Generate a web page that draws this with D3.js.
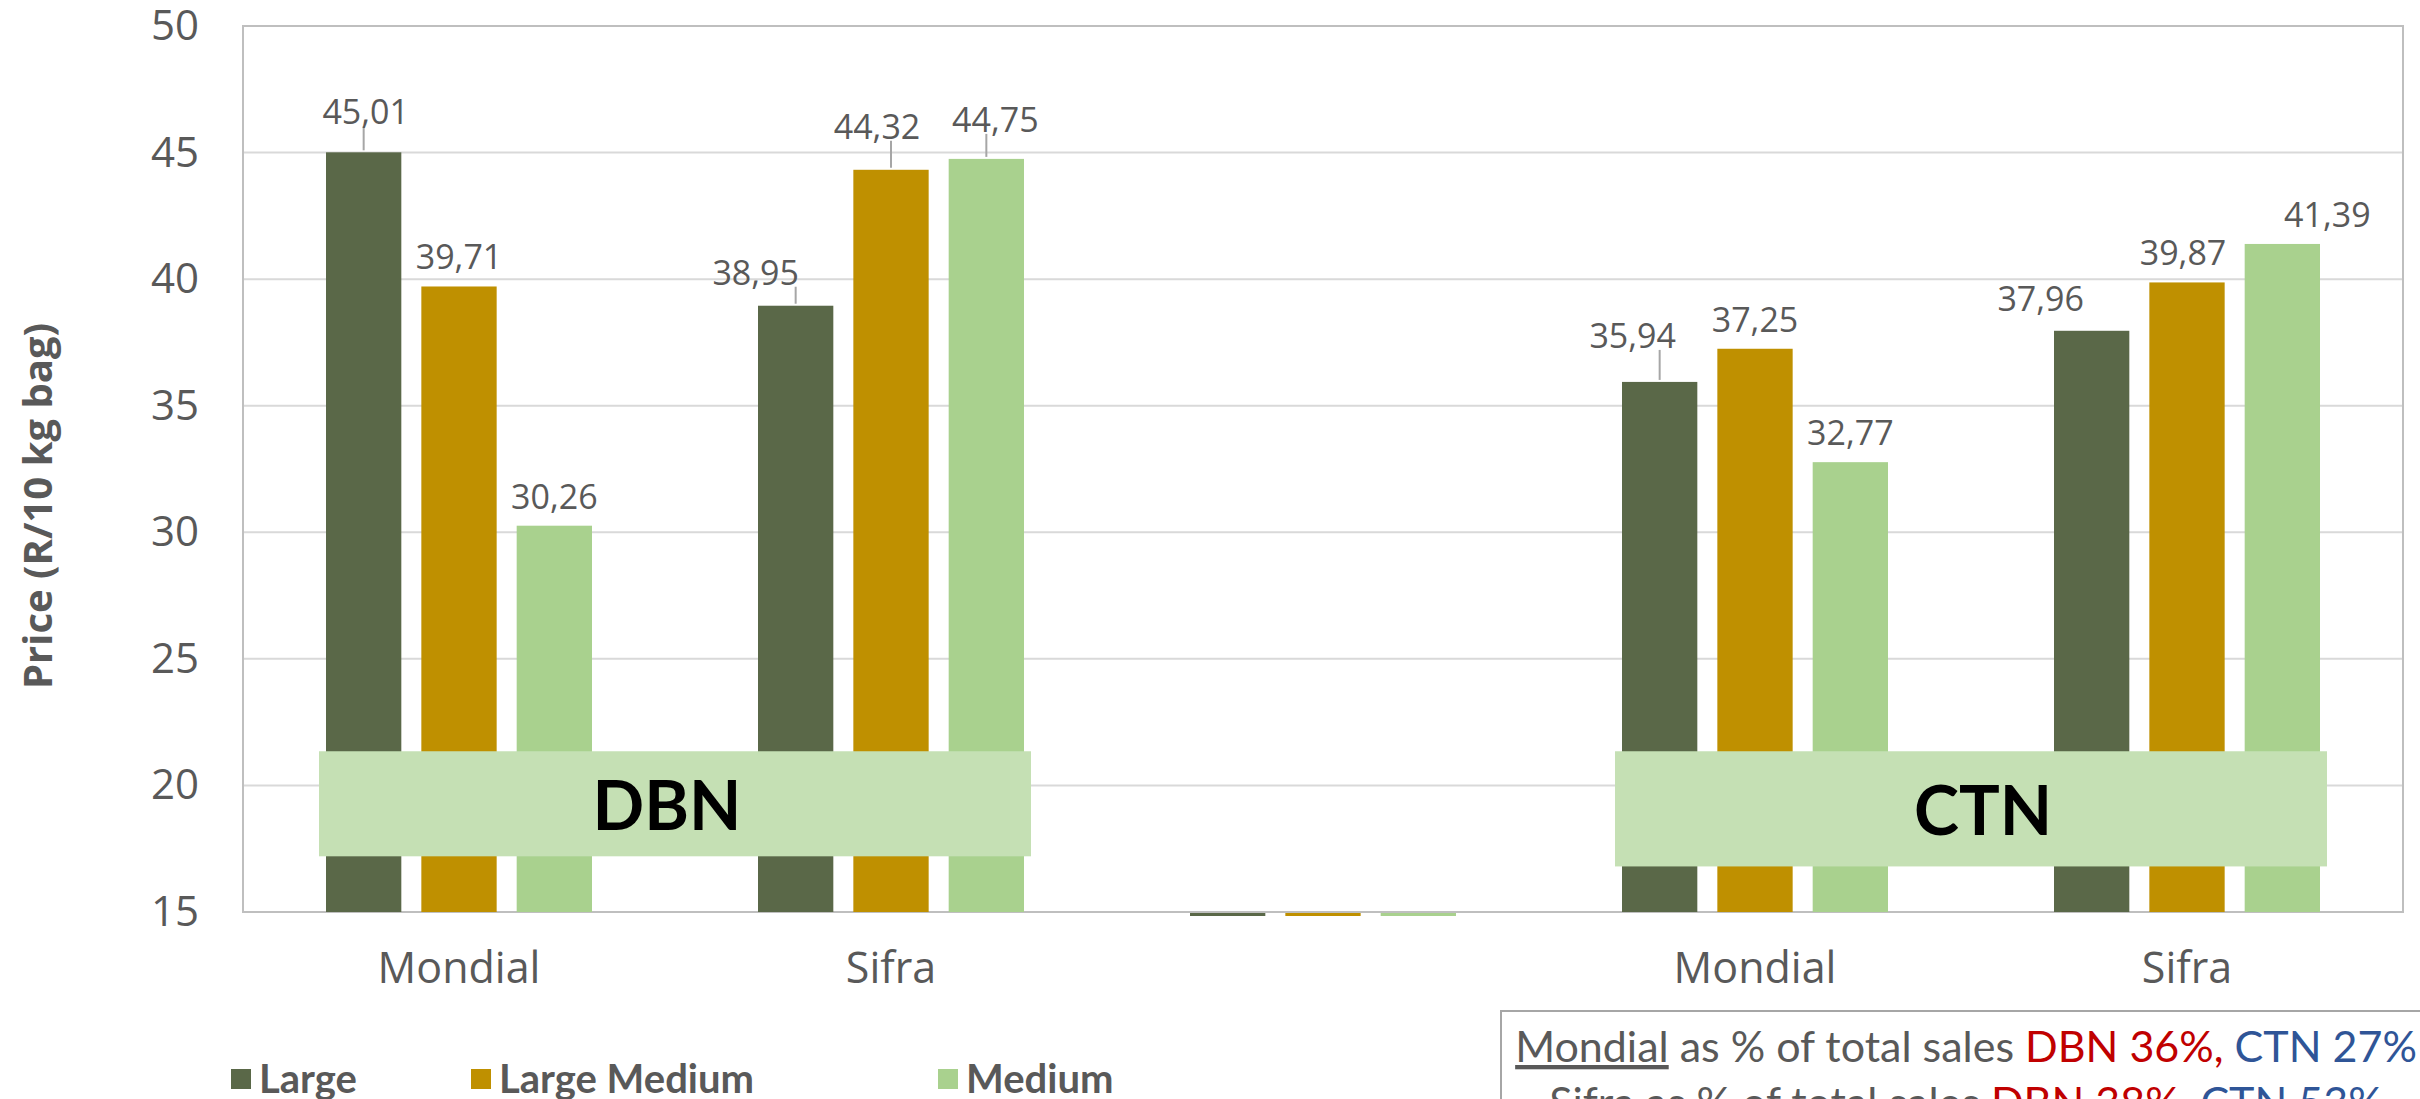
<!DOCTYPE html>
<html>
<head>
<meta charset="utf-8">
<script src="https://cdn.jsdelivr.net/npm/d3@7"></script>
<style>
  body { margin: 0; background: #fff; }
  svg { display: block; }
</style>
</head>
<body>
<div id="chartArea"></div>
<script>
const width = 2420;
const height = 1099;

// chart data
const categories = ["Mondial", "Sifra", "", "Mondial", "Sifra"];
const seriesNames = ["Large", "Large Medium", "Medium"];
const largeValues = [45.01, 38.95, 0, 35.94, 37.96];
const largeMediumValues = [39.71, 44.32, 0, 37.25, 39.87];
const mediumValues = [30.26, 44.75, 0, 32.77, 41.39];
const yTicks = [15, 20, 25, 30, 35, 40, 45, 50];
const regions = ["DBN", "CTN"];
const noteLines = [
    { market: "Mondial", dbn: "DBN 36%,", ctn: " CTN 27%" },
    { market: "Sifra", dbn: "DBN 38%,", ctn: " CTN 53%" }
];

// label nudges [dx, dy, leader] per series, per category
const labelNudges = [
    [[2, -11, true], [-40, -4, true], null, [-27, -17, true], [-51, -3, false]],
    [[0, 0, false], [-14, -14, true], null, [0, 0, false], [-4, 0, false]],
    [[0, 0, false], [9, -10, true], null, [0, 0, false], [45, 0, false]]
];

const colors = ["#5a6848", "#bf9000", "#a9d18e"];
const textGray = "#595959";
const margin = { top: 26, right: 17, bottom: 187, left: 243 };

const svg = d3.select("#chartArea")
    .append("svg")
    .attr("width", width)
    .attr("height", height);

const x0 = d3.scaleBand()
    .domain(d3.range(categories.length))
    .range([margin.left, width - margin.right]);

const x1 = d3.scaleBand()
    .domain(d3.range(seriesNames.length))
    .range([83, x0.bandwidth() - 83])
    .paddingInner(0.21);

const y = d3.scaleLinear()
    .domain([15, 50])
    .range([height - margin.bottom, margin.top]);

const allValues = [largeValues, largeMediumValues, mediumValues];

// gridlines
svg.append("g")
    .selectAll("line")
    .data(yTicks)
    .enter().append("line")
    .attr("x1", margin.left)
    .attr("x2", width - margin.right)
    .attr("y1", d => y(d))
    .attr("y2", d => y(d))
    .attr("stroke", "#d9d9d9")
    .attr("stroke-width", 2);

// plot border
svg.append("rect")
    .attr("x", margin.left)
    .attr("y", y(50))
    .attr("width", width - margin.right - margin.left)
    .attr("height", y(15) - y(50))
    .attr("fill", "none")
    .attr("stroke", "#bfbfbf")
    .attr("stroke-width", 2);

// y axis labels
const yAxis = d3.axisLeft(y).tickValues(yTicks).tickSize(0).tickPadding(44);
const yAxisG = svg.append("g")
    .attr("transform", `translate(${margin.left},0)`)
    .call(yAxis);
yAxisG.select(".domain").remove();
yAxisG.selectAll("text")
    .attr("fill", textGray)
    .style("font-family", "'Open Sans', sans-serif")
    .style("font-size", "42px");

// x axis labels
const xAxis = d3.axisBottom(x0).tickFormat(i => categories[i]).tickSize(0).tickPadding(40);
const xAxisG = svg.append("g")
    .attr("transform", `translate(0,${y(15)})`)
    .call(xAxis);
xAxisG.select(".domain").remove();
xAxisG.selectAll("text")
    .attr("fill", textGray)
    .style("font-family", "'Open Sans', sans-serif")
    .style("font-size", "43px");

// y title
svg.append("text")
    .attr("transform", `translate(36,${(y(15) + y(50)) / 2 + 37}) rotate(-90)`)
    .attr("text-anchor", "middle")
    .attr("dominant-baseline", "central")
    .attr("fill", textGray)
    .style("font-family", "'Open Sans', sans-serif")
    .style("font-weight", "bold")
    .style("font-size", "40px")
    .text("Price (R/10 kg bag)");

// bars
const barData = [];
allValues.forEach((vals, s) => {
    vals.forEach((v, c) => {
        barData.push({ s: s, c: c, value: v, nudge: labelNudges[s][c] });
    });
});

svg.append("g")
    .selectAll("rect")
    .data(barData)
    .enter().append("rect")
    .attr("x", d => x0(d.c) + x1(d.s))
    .attr("width", x1.bandwidth())
    .attr("y", d => d.value >= 15 ? y(d.value) : y(15) + 1)
    .attr("height", d => d.value >= 15 ? y(15) - y(d.value) : 3)
    .attr("fill", d => colors[d.s]);

// region boxes (DBN over first two groups, CTN over last two)
const regionGroups = [[0, 1], [3, 4]];
const regionBottoms = [17.2, 16.8];
regions.forEach((name, i) => {
    const g = regionGroups[i];
    const left = x0(g[0]) + 76;
    const right = x0(g[1]) + x0.bandwidth() - 76;
    svg.append("rect")
        .attr("x", left)
        .attr("y", y(21.35))
        .attr("width", right - left)
        .attr("height", y(regionBottoms[i]) - y(21.35))
        .attr("fill", "#c5e0b4");
    svg.append("text")
        .attr("x", (left + right) / 2 + (i === 0 ? -8 : 12))
        .attr("y", (y(21.35) + y(regionBottoms[i])) / 2)
        .attr("text-anchor", "middle")
        .attr("dominant-baseline", "central")
        .attr("fill", "#000")
        .style("font-family", "Lato, sans-serif")
        .style("font-weight", "bold")
        .style("font-size", "68px")
        .text(name);
});

// data labels
const labelData = barData.filter(d => d.value >= 15);
const fmt = v => v.toFixed(2).replace(".", ",");

labelData.forEach(d => {
    const bx = x0(d.c) + x1(d.s) + x1.bandwidth() / 2;
    const top = y(d.value);
    d.lx = bx + d.nudge[0];
    d.ly = top - 30 + d.nudge[1];
    d.bx = bx;
    d.top = top;
});

svg.append("g")
    .selectAll("line")
    .data(labelData.filter(d => d.nudge[2]))
    .enter().append("line")
    .attr("x1", d => Math.max(d.lx - 40, Math.min(d.lx + 40, d.bx)))
    .attr("y1", d => d.ly + 15)
    .attr("x2", d => d.bx)
    .attr("y2", d => d.top - 2)
    .attr("stroke", "#a6a6a6")
    .attr("stroke-width", 2);

svg.append("g")
    .selectAll("text")
    .data(labelData)
    .enter().append("text")
    .attr("x", d => d.lx)
    .attr("y", d => d.ly)
    .attr("text-anchor", "middle")
    .attr("dominant-baseline", "central")
    .attr("fill", textGray)
    .style("font-family", "'Open Sans', sans-serif")
    .style("font-size", "34px")
    .text(d => fmt(d.value));

// legend
const legendX = [231, 471, 938];
const legend = svg.append("g")
    .selectAll("g")
    .data(seriesNames)
    .enter().append("g")
    .attr("transform", (d, i) => `translate(${legendX[i]},1069)`);

legend.append("rect")
    .attr("width", 20)
    .attr("height", 20)
    .attr("fill", (d, i) => colors[i]);

legend.append("text")
    .attr("x", 28)
    .attr("y", 24)
    .attr("fill", textGray)
    .style("font-family", "Lato, sans-serif")
    .style("font-weight", "bold")
    .style("font-size", "40px")
    .text(d => d);

// note box bottom right
svg.append("rect")
    .attr("x", 1501)
    .attr("y", 1011)
    .attr("width", 1000)
    .attr("height", 200)
    .attr("fill", "#fff")
    .attr("stroke", "#a6a6a6")
    .attr("stroke-width", 2);

const note = svg.append("g");
noteLines.forEach((line, i) => {
    const t = note.append("text")
        .attr("x", 1966)
        .attr("y", 1062 + i * 56)
        .attr("text-anchor", "middle")
        .style("font-family", "Lato, sans-serif")
        .style("font-size", "43px");
    t.append("tspan")
        .attr("fill", textGray)
        .style("text-decoration", "underline")
        .text(line.market);
    t.append("tspan")
        .attr("fill", textGray)
        .text(" as % of total sales ");
    t.append("tspan")
        .attr("fill", "#c00000")
        .text(line.dbn);
    t.append("tspan")
        .attr("fill", "#2f5597")
        .text(line.ctn);
});
</script>
</body>
</html>
